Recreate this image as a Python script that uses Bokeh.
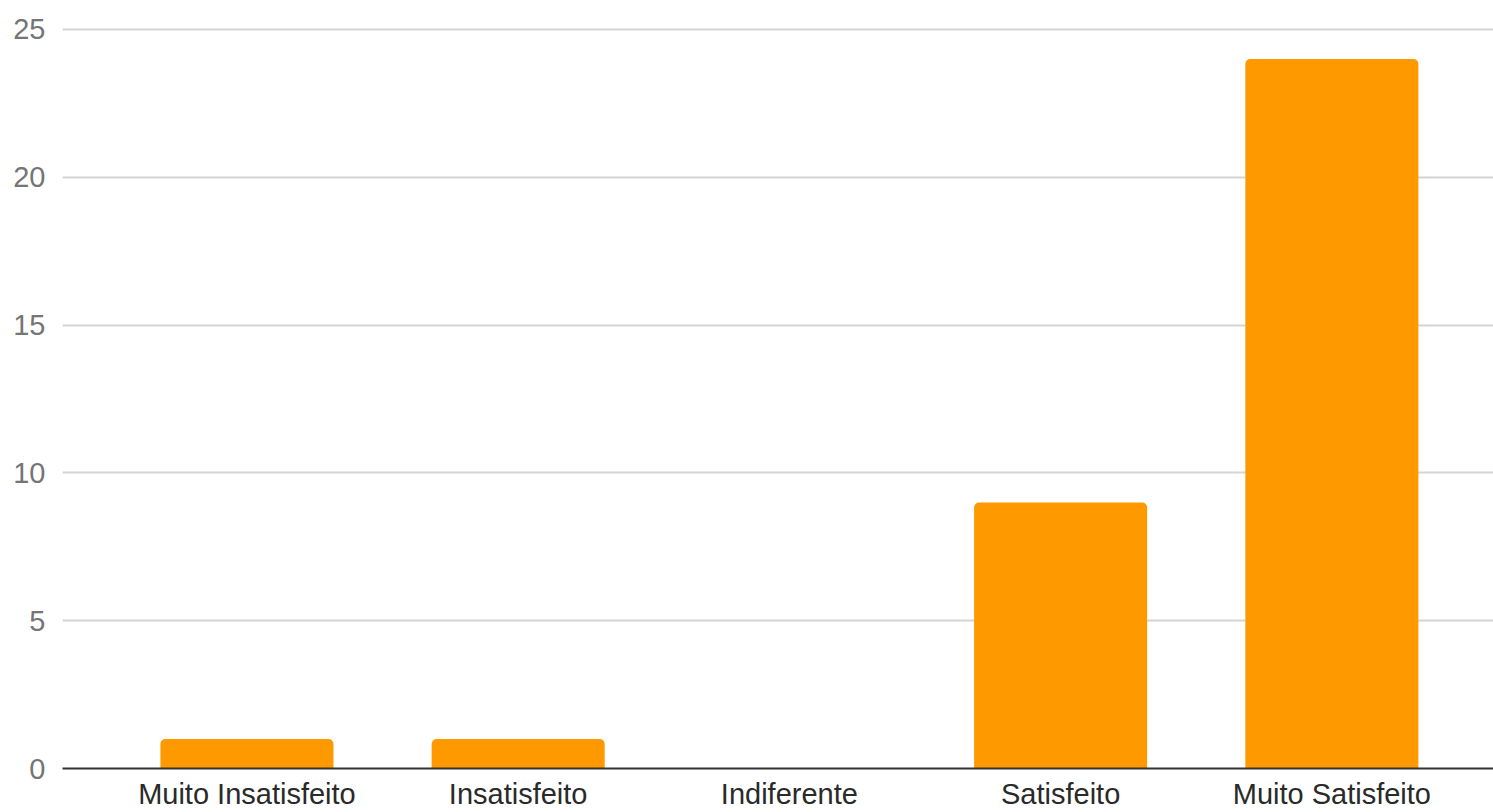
from bokeh.plotting import figure
from bokeh.models import Range1d, FixedTicker, ColumnDataSource
from bokeh.embed import file_html
from bokeh.resources import INLINE

categories = ["Muito Insatisfeito", "Insatisfeito", "Indiferente", "Satisfeito", "Muito Satisfeito"]
counts = [1, 1, 0, 9, 24]
y_ticks = [0, 5, 10, 15, 20, 25]

positions = list(range(len(categories)))
source = ColumnDataSource(dict(x=positions, top=counts, cat=categories))

p = figure(width=1493, height=812, output_backend="svg", toolbar_location=None,
           x_range=Range1d(-0.68, 4.596), y_range=Range1d(0, 25.1),
           min_border_left=62, min_border_right=0, min_border_top=26, min_border_bottom=0)
p.outline_line_color = None
p.background_fill_color = "white"
p.border_fill_color = "white"

p.vbar(x="x", top="top", bottom=0, width=0.638, source=source,
       fill_color="#FF9900", line_color=None, border_radius=(5, 5, 0, 0))

# x axis
p.xaxis.ticker = FixedTicker(ticks=positions)
p.xaxis.major_label_overrides = {i: c for i, c in zip(positions, categories)}
p.xaxis.major_tick_line_color = None
p.xaxis.major_tick_out = 0
p.xaxis.minor_tick_line_color = None
p.xaxis.axis_line_color = "#333333"
p.xaxis.axis_line_width = 2
p.xaxis.major_label_text_font = "Liberation Sans"
p.xaxis.major_label_text_font_size = "29px"
p.xaxis.major_label_text_color = "#2a2a2a"
p.xaxis.major_label_standoff = 9

# y axis
p.yaxis.ticker = FixedTicker(ticks=y_ticks)
p.yaxis.major_tick_line_color = None
p.yaxis.major_tick_out = 0
p.yaxis.minor_tick_line_color = None
p.yaxis.axis_line_color = None
p.yaxis.major_label_text_font = "Liberation Sans"
p.yaxis.major_label_text_font_size = "29px"
p.yaxis.major_label_text_color = "#757575"
p.yaxis.major_label_standoff = 17

p.xgrid.grid_line_color = None
p.ygrid.ticker = FixedTicker(ticks=y_ticks)
p.ygrid.grid_line_color = "#d4d4d4"
p.ygrid.grid_line_width = 2

open("out.html", "w").write(file_html(p, INLINE))
